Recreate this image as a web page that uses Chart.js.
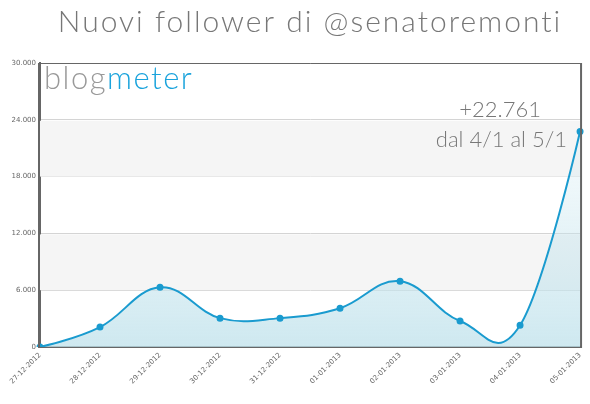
<!DOCTYPE html>
<html lang="it">
<head>
  <meta charset="UTF-8">
  <title>Nuovi follower di @senatoremonti</title>
  <script src="https://cdn.jsdelivr.net/npm/chart.js"></script>
  <style>
    html, body { margin: 0; padding: 0; background: #fff; }
    #wrap { width: 590px; height: 404px; position: relative; }
  </style>
</head>
<body>
  <div id="wrap"><canvas id="followerChart" width="590" height="404"></canvas></div>

  <script>
    // dati
    const giorni = ['27-12-2012', '28-12-2012', '29-12-2012', '30-12-2012', '31-12-2012',
                    '01-01-2013', '02-01-2013', '03-01-2013', '04-01-2013', '05-01-2013'];
    const follower = [0, 2100, 6300, 3050, 3050, 4100, 6950, 2750, 2300, 22761];
    const yTicks = [0, 6000, 12000, 18000, 24000, 30000];

    const titolo = 'Nuovi follower di @senatoremonti';
    const nota1 = '+22.761';
    const nota2 = 'dal 4/1 al 5/1';

    const fmt = v => v === 0 ? '0' : v.toLocaleString('it-IT').replace(/,/g, '.');

    // curva "spline" stile vecchio Highcharts: punti di controllo a 0.4 dx,
    // tangente come Catmull-Rom, calcolati sui pixel dati dalle scale
    const spline = {
      id: 'spline',
      beforeDatasetsDraw(chart) {
        const meta = chart.getDatasetMeta(0);
        meta.dataset.updateControlPoints(chart.chartArea, 'x');
        const pts = meta.data;
        pts.forEach((p, i) => {
          p.cp1x = p.x; p.cp1y = p.y; p.cp2x = p.x; p.cp2y = p.y;
          if (i === 0 || i === pts.length - 1) return;
          const a = pts[i - 1], b = pts[i + 1];
          const lx = (1.5 * p.x + a.x) / 2.5, ly = (1.5 * p.y + a.y) / 2.5;
          const rx = (1.5 * p.x + b.x) / 2.5, ry = (1.5 * p.y + b.y) / 2.5;
          const corr = ((ry - ly) * (rx - p.x)) / (rx - lx) + p.y - ry;
          p.cp1x = lx; p.cp1y = ly + corr;
          p.cp2x = rx; p.cp2y = ry + corr;
        });
      }
    };

    // bande grigie alternate, titolo, logo e note
    const decorazioni = {
      id: 'decorazioni',
      beforeDatasetsDraw(chart) {
        const { ctx, chartArea, scales } = chart;
        const y = scales.y;
        ctx.save();
        ctx.fillStyle = '#f5f5f5';
        [[6000, 12000], [18000, 24000]].forEach(([a, b]) => {
          const top = y.getPixelForValue(b), bot = y.getPixelForValue(a);
          ctx.fillRect(chartArea.left, top + 1, chartArea.right - chartArea.left, bot - top - 1);
        });
        ctx.restore();
      },
      afterDraw(chart) {
        const { ctx, chartArea } = chart;
        ctx.save();
        ctx.fillStyle = '#777';
        ctx.textAlign = 'center';
        ctx.textBaseline = 'alphabetic';
        ctx.letterSpacing = '2px';
        ctx.font = '300 30px Lato, "Open Sans", sans-serif';
        ctx.fillText(titolo, 310, 32);

        // logo blogmeter
        ctx.textAlign = 'left';
        ctx.letterSpacing = '1.5px';
        ctx.font = '300 31px Lato, "Open Sans", sans-serif';
        ctx.fillStyle = '#999';
        ctx.fillText('blog', 44, 89);
        const w = ctx.measureText('blog').width;
        ctx.fillStyle = '#1aa3dc';
        ctx.fillText('meter', 44 + w, 89);

        // note
        ctx.textAlign = 'right';
        ctx.letterSpacing = '0px';
        ctx.fillStyle = '#777';
        ctx.font = '300 22px Lato, "Open Sans", sans-serif';
        ctx.fillText(nota1, 541, 117);
        ctx.fillText(nota2, 567, 147);

        // bordo del grafico
        ctx.strokeStyle = '#666';
        ctx.lineWidth = 1;
        ctx.beginPath();
        ctx.moveTo(chartArea.left, chartArea.top + 0.5);
        ctx.lineTo(chartArea.right + 0.5, chartArea.top + 0.5);
        ctx.stroke();
        ctx.lineWidth = 2;
        ctx.beginPath();
        ctx.moveTo(chartArea.right + 1, chartArea.top);
        ctx.lineTo(chartArea.right + 1, chartArea.bottom + 1);
        ctx.moveTo(chartArea.left - 1, chartArea.top);
        ctx.lineTo(chartArea.left - 1, chartArea.bottom + 1);
        ctx.stroke();
        ctx.restore();
      }
    };

    const ctx = document.getElementById('followerChart').getContext('2d');

    const sfumatura = (context) => {
      const area = context.chart.chartArea;
      if (!area) return 'rgba(180, 220, 230, 0.6)';
      const g = context.chart.ctx.createLinearGradient(0, area.top + 60, 0, area.bottom);
      g.addColorStop(0, 'rgba(205, 232, 240, 0.15)');
      g.addColorStop(1, 'rgba(190, 225, 235, 0.75)');
      return g;
    };

    const followerChart = new Chart(ctx, {
      type: 'line',
      data: {
        labels: giorni,
        datasets: [{
          data: follower,
          borderColor: '#1a9bcf',
          backgroundColor: sfumatura,
          borderWidth: 2,
          fill: 'origin',
          tension: 0.4,
          pointRadius: 2.5,
          pointBackgroundColor: '#1a9bcf',
          pointBorderColor: '#1a9bcf'
        }]
      },
      options: {
        responsive: false,
        animation: false,
        devicePixelRatio: 1,
        layout: { padding: { top: 63, right: 9, left: 0, bottom: 0 } },
        plugins: {
          legend: { display: false },
          tooltip: { enabled: false }
        },
        scales: {
          x: {
            grid: { display: false, drawTicks: false },
            border: { color: '#666', width: 2 },
            ticks: {
              minRotation: 45,
              maxRotation: 45,
              autoSkip: false,
              color: '#666',
              padding: 4,
              font: { family: 'Verdana, "DejaVu Sans", sans-serif', size: 7 }
            },
            afterFit(scale) { scale.height = 57; }
          },
          y: {
            min: 0,
            max: 30000,
            afterBuildTicks(scale) { scale.ticks = yTicks.map(v => ({ value: v })); },
            grid: { color: '#d4d4d4', drawTicks: false },
            border: { color: '#666', width: 2 },
            ticks: {
              color: '#666',
              padding: 4,
              callback: v => fmt(v),
              font: { family: 'Verdana, "DejaVu Sans", sans-serif', size: 7 }
            },
            afterFit(scale) { scale.width = 40; }
          }
        }
      },
      plugins: [decorazioni, spline]
    });
  </script>
</body>
</html>
